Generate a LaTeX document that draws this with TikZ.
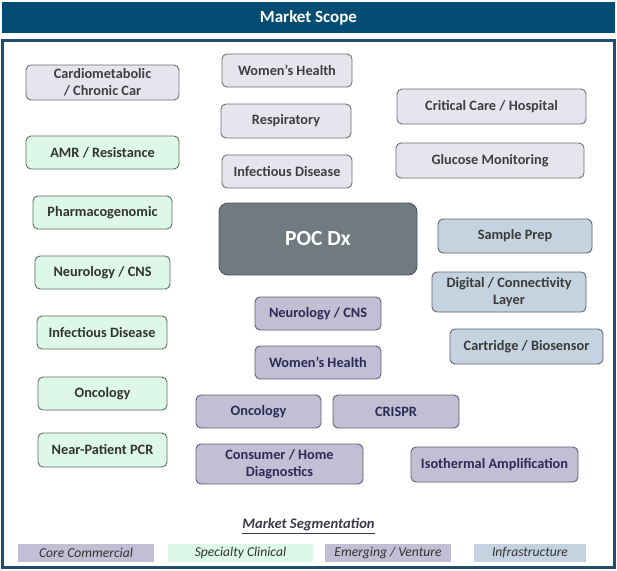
\documentclass[tikz,border=0pt]{standalone}
\usepackage{fontspec}
\setmainfont{Carlito}
\definecolor{hdr}{HTML}{044D72}
\definecolor{frm}{HTML}{1F4E6E}
\definecolor{coreF}{HTML}{E6E5EE}
\definecolor{coreD}{HTML}{6E6E6E}
\definecolor{coreT}{HTML}{3F3F3F}
\definecolor{grnF}{HTML}{DDF8E9}
\definecolor{grnD}{HTML}{5F6B64}
\definecolor{grnT}{HTML}{333333}
\definecolor{purF}{HTML}{C2BFD4}
\definecolor{purD}{HTML}{5F5F6E}
\definecolor{purT}{HTML}{2B2B55}
\definecolor{infF}{HTML}{C5D3E1}
\definecolor{infD}{HTML}{5D6570}
\definecolor{infT}{HTML}{3A3A3A}
\definecolor{pocF}{HTML}{6F7B81}
\definecolor{pocD}{HTML}{4D555A}
\definecolor{legT}{HTML}{333333}
\definecolor{segT}{HTML}{3A3A4A}
\begin{document}
\begin{tikzpicture}[x=1pt,y=-1pt,
  box/.style={rounded corners=5pt, line width=0.9pt, align=center, inner sep=0pt,
    font=\fontsize{14.3}{17}\selectfont\bfseries},
  core/.style={box, fill=coreF, draw=coreD, text=coreT},
  spec/.style={box, fill=grnF, draw=grnD, text=grnT},
  emer/.style={box, fill=purF, draw=purD, text=purT},
  infra/.style={box, fill=infF, draw=infD, text=infT},
  pocbox/.style={box, rounded corners=9pt, fill=pocF, draw=pocD, text=white,
    font=\fontsize{21.5}{24}\selectfont\bfseries},
  legbox/.style={inner sep=0pt, minimum height=18pt, text=legT,
    font=\fontsize{13.6}{15}\selectfont\itshape},
  sz/.style 2 args={minimum width=#1pt, minimum height=#2pt}
]
\useasboundingbox (0,0) rectangle (617,570);
% header
\node[fill=hdr, minimum width=613pt, minimum height=31pt, inner sep=0pt,
  text=white, font=\fontsize{17}{20}\selectfont\bfseries] (header) at (308.5,17.5) {Market Scope};
% frame
\node[draw=frm, line width=2.2pt, fill=white, minimum width=612pt, minimum height=527pt, inner sep=0pt] (frame) at (308.5,304) {};
% left column (core + specialty)
\node[core, sz={153}{35}] (cardio) at (102.5,82.5) {Cardiometabolic\\/ Chronic Car};
\node[spec, sz={153}{33}] (amr) at (102.5,152.5) {AMR / Resistance};
\node[spec, sz={139}{33}] (pharma) at (102.5,212.5) {Pharmacogenomic};
\node[spec, sz={135}{33}] (neurog) at (102.5,272.5) {Neurology / CNS};
\node[spec, sz={130}{33}] (infg) at (102,332.5) {Infectious Disease};
\node[spec, sz={129}{33}] (oncg) at (102.5,393.5) {Oncology};
\node[spec, sz={129}{34}] (pcr) at (102.5,450) {Near-Patient PCR};
% top middle (core)
\node[core, sz={130}{33}] (woment) at (287,70.5) {Women’s Health};
\node[core, sz={130}{34}] (resp) at (286,121) {Respiratory};
\node[core, sz={130}{33}] (inft) at (287,171.5) {Infectious Disease};
% top right (core)
\node[core, sz={189}{35}] (crit) at (491.5,106.5) {Critical Care / Hospital};
\node[core, sz={188}{35}] (gluc) at (490,160.5) {Glucose Monitoring};
% center
\node[pocbox, sz={198}{72}] (poc) at (318,239) {POC Dx};
% infrastructure
\node[infra, sz={154}{34}] (sample) at (515,236) {Sample Prep};
\node[infra, sz={154}{40}] (digital) at (509,292) {Digital / Connectivity\\Layer};
\node[infra, sz={153}{35}] (cart) at (526.5,346.5) {Cartridge / Biosensor};
% emerging
\node[emer, sz={126}{33}] (neurop) at (318,313.5) {Neurology / CNS};
\node[emer, sz={126}{33}] (womenp) at (318,362.5) {Women’s Health};
\node[emer, sz={125}{33}] (oncp) at (258.5,411.5) {Oncology};
\node[emer, sz={126}{33}] (crispr) at (396,411.5) {CRISPR};
\node[emer, sz={167}{40}] (consumer) at (279.5,464) {Consumer / Home\\Diagnostics};
\node[emer, sz={167}{35}] (iso) at (494.5,464.5) {Isothermal Amplification};
% legend
\node[text=segT, font=\fontsize{14.6}{17}\selectfont\bfseries\itshape, inner sep=0pt] (seg) at (308.5,526) {\underline{Market Segmentation}};
\node[legbox, fill=purF, minimum width=136pt] (lcore) at (86,553) {Core Commercial};
\node[legbox, fill=grnF, minimum width=145pt] (lspec) at (240.5,553) {Specialty Clinical};
\node[legbox, fill=purF, minimum width=126pt] (lemer) at (388,553) {Emerging / Venture};
\node[legbox, fill=infF, minimum width=112pt] (linfra) at (530,553) {Infrastructure};
\end{tikzpicture}
\end{document}
